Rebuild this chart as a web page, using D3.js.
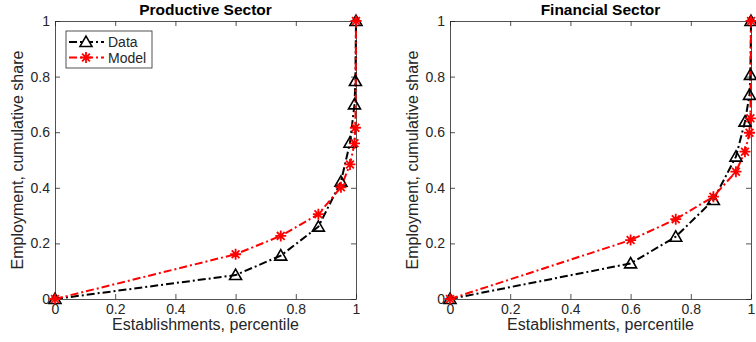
<!DOCTYPE html>
<html>
<head>
<meta charset="utf-8">
<title>Establishment size distribution</title>
<script src="https://cdn.jsdelivr.net/npm/d3@7"></script>
<style>
body { margin: 0; background: #fff; }
svg text { font-family: "Liberation Sans", Arial, Helvetica, sans-serif; fill: #262626; }
.title { font-weight: bold; font-size: 15.5px; fill: #000; }
.tick text { font-size: 14px; }
.lab { font-size: 16px; }
</style>
</head>
<body>
<svg width="756" height="342"></svg>
<script>

// establishment percentiles (shared by both sectors)
var pct = [0, 0.6, 0.75, 0.875, 0.95, 0.98, 0.995, 0.998, 1];

// cumulative employment share
var prodData  = [0, 0.086, 0.156, 0.26, 0.422, 0.562, 0.70, 0.784, 1];
var prodModel = [0, 0.161, 0.227, 0.305, 0.402, 0.484, 0.56, 0.616, 1];
var finData   = [0, 0.128, 0.224, 0.356, 0.512, 0.638, 0.734, 0.806, 1];
var finModel  = [0, 0.212, 0.287, 0.368, 0.458, 0.53, 0.598, 0.65, 1];

var ticks = [0, 0.2, 0.4, 0.6, 0.8, 1];
var tickFmt = function(d) { return d === 0 ? "0" : d === 1 ? "1" : d3.format(".1f")(d); };

var panels = [
  { title: "Productive Sector", left: 55, data: prodData, model: prodModel, legend: true },
  { title: "Financial Sector", left: 450, data: finData, model: finModel, legend: false }
];

var svg = d3.select("svg");
var plotW = 301, plotTop = 21, plotH = 278;
var dash = "8,3,2,3";

panels.forEach(function(p) {
  var g = svg.append("g").attr("transform", "translate(" + p.left + "," + plotTop + ")");
  var x = d3.scaleLinear().domain([0, 1]).range([0, plotW]);
  var y = d3.scaleLinear().domain([0, 1]).range([plotH, 0]);

  // axes, MATLAB style ticks pointing inward
  g.append("g").attr("transform", "translate(0," + plotH + ")")
    .call(d3.axisBottom(x).tickValues(ticks).tickFormat(tickFmt).tickSizeInner(-5).tickSizeOuter(0).tickPadding(5));
  g.append("g")
    .call(d3.axisLeft(y).tickValues(ticks).tickFormat(tickFmt).tickSizeInner(-5).tickSizeOuter(0).tickPadding(5));
  g.append("g").call(d3.axisTop(x).tickValues(ticks).tickFormat("").tickSizeInner(-5).tickSizeOuter(0));
  g.append("g").attr("transform", "translate(" + plotW + ",0)")
    .call(d3.axisRight(y).tickValues(ticks).tickFormat("").tickSizeInner(-5).tickSizeOuter(0));
  g.selectAll(".domain").attr("stroke", "#262626").attr("stroke-width", 0.8);
  g.selectAll(".tick line").attr("stroke", "#262626").attr("stroke-width", 0.8);
  g.selectAll(".tick text").attr("fill", "#262626");

  var line = d3.line().x(function(d) { return x(d[0]); }).y(function(d) { return y(d[1]); });
  var dpts = d3.zip(pct, p.data), mpts = d3.zip(pct, p.model);

  g.append("path").datum(dpts).attr("d", line)
    .attr("fill", "none").attr("stroke", "#000").attr("stroke-width", 2)
    .attr("stroke-dasharray", dash);
  g.append("path").datum(mpts).attr("d", line)
    .attr("fill", "none").attr("stroke", "#ff0000").attr("stroke-width", 2)
    .attr("stroke-dasharray", dash);

  var tri = d3.symbol().type(d3.symbolTriangle).size(62);
  g.selectAll(".tri").data(dpts).enter().append("path")
    .attr("class", "tri").attr("d", tri)
    .attr("transform", function(d) { return "translate(" + x(d[0]) + "," + (y(d[1]) + 1) + ")"; })
    .attr("fill", "none").attr("stroke", "#000").attr("stroke-width", 1.6);

  g.selectAll(".star").data(mpts).enter().append("path")
    .attr("class", "star").attr("d", starPath(5.5))
    .attr("transform", function(d) { return "translate(" + x(d[0]) + "," + y(d[1]) + ")"; })
    .attr("fill", "none").attr("stroke", "#ff0000").attr("stroke-width", 1.8);

  g.append("text").attr("class", "title").attr("x", plotW / 2).attr("y", -6)
    .attr("text-anchor", "middle").text(p.title);
  g.append("text").attr("class", "lab").attr("x", plotW / 2).attr("y", plotH + 31)
    .attr("text-anchor", "middle").text("Establishments, percentile");
  g.append("text").attr("class", "lab")
    .attr("transform", "translate(-32," + (plotH / 2) + ") rotate(-90)")
    .attr("text-anchor", "middle").text("Employment, cumulative share");

  if (p.legend) {
    var lg = g.append("g").attr("transform", "translate(11,10)");
    lg.append("rect").attr("width", 86).attr("height", 37)
      .attr("fill", "#fff").attr("stroke", "#262626").attr("stroke-width", 0.8);
    var items = [["Data", "#000", "tri"], ["Model", "#ff0000", "star"]];
    items.forEach(function(it, i) {
      var yy = 11 + i * 15.5;
      lg.append("line").attr("x1", 3).attr("x2", 38).attr("y1", yy).attr("y2", yy)
        .attr("stroke", it[1]).attr("stroke-width", 2).attr("stroke-dasharray", dash);
      lg.append("path").attr("d", it[2] === "tri" ? tri() : starPath(5.5))
        .attr("transform", "translate(20," + (yy + (it[2] === "tri" ? 1 : 0)) + ")")
        .attr("fill", "#fff").attr("stroke", it[1]).attr("stroke-width", it[2] === "tri" ? 1.6 : 1.8);
      lg.append("text").attr("x", 42).attr("y", yy + 5).style("font-size", "14px").attr("fill", "#000").text(it[0]);
    });
  }
});

function starPath(r) {
  var d = r * Math.SQRT1_2;
  return "M" + (-r) + ",0L" + r + ",0M0," + (-r) + "L0," + r +
         "M" + (-d) + "," + (-d) + "L" + d + "," + d + "M" + (-d) + "," + d + "L" + d + "," + (-d);
}

</script>
</body>
</html>
